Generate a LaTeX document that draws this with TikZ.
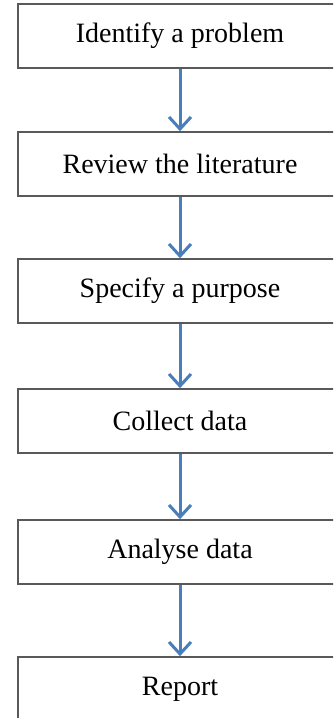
\documentclass[tikz,border=0pt]{standalone}
\usepackage{fontspec}
\setmainfont{Liberation Serif}
\usepackage{tikz}
\usetikzlibrary{arrows.meta, positioning}

\definecolor{flowblue}{RGB}{74,126,187}
\tikzset{
  stepbox/.style={draw=black!65, line width=1.6pt, rectangle,
    minimum width=324pt, minimum height=64pt, inner sep=0pt,
    font=\fontsize{28}{32}\selectfont},
  flowarrow/.style={draw=flowblue, line width=3pt,
    -{Straight Barb[length=12pt, width=22pt]}}
}

\begin{document}
\begin{tikzpicture}[x=1pt, y=1pt]
  \useasboundingbox (0,0) rectangle (333,-718);
  \clip (0,0) rectangle (333,-718);
  % Steps
  \node[stepbox] (identify) at (180,-36)  {Identify a problem};
  \node[stepbox] (review)   at (180,-164) {Review the literature};
  \node[stepbox] (purpose)  at (180,-291) {Specify a purpose};
  \node[stepbox] (collect)  at (180,-421) {Collect data};
  \node[stepbox] (analyse)  at (180,-552) {Analyse data};
  \node[stepbox] (report)   at (180,-689) {Report};
  % Arrows between steps
  \foreach \a/\b in {identify/review, review/purpose, purpose/collect,
                     collect/analyse, analyse/report} {
    \draw[flowarrow] (\a) -- (\b);
  }
\end{tikzpicture}
\end{document}
